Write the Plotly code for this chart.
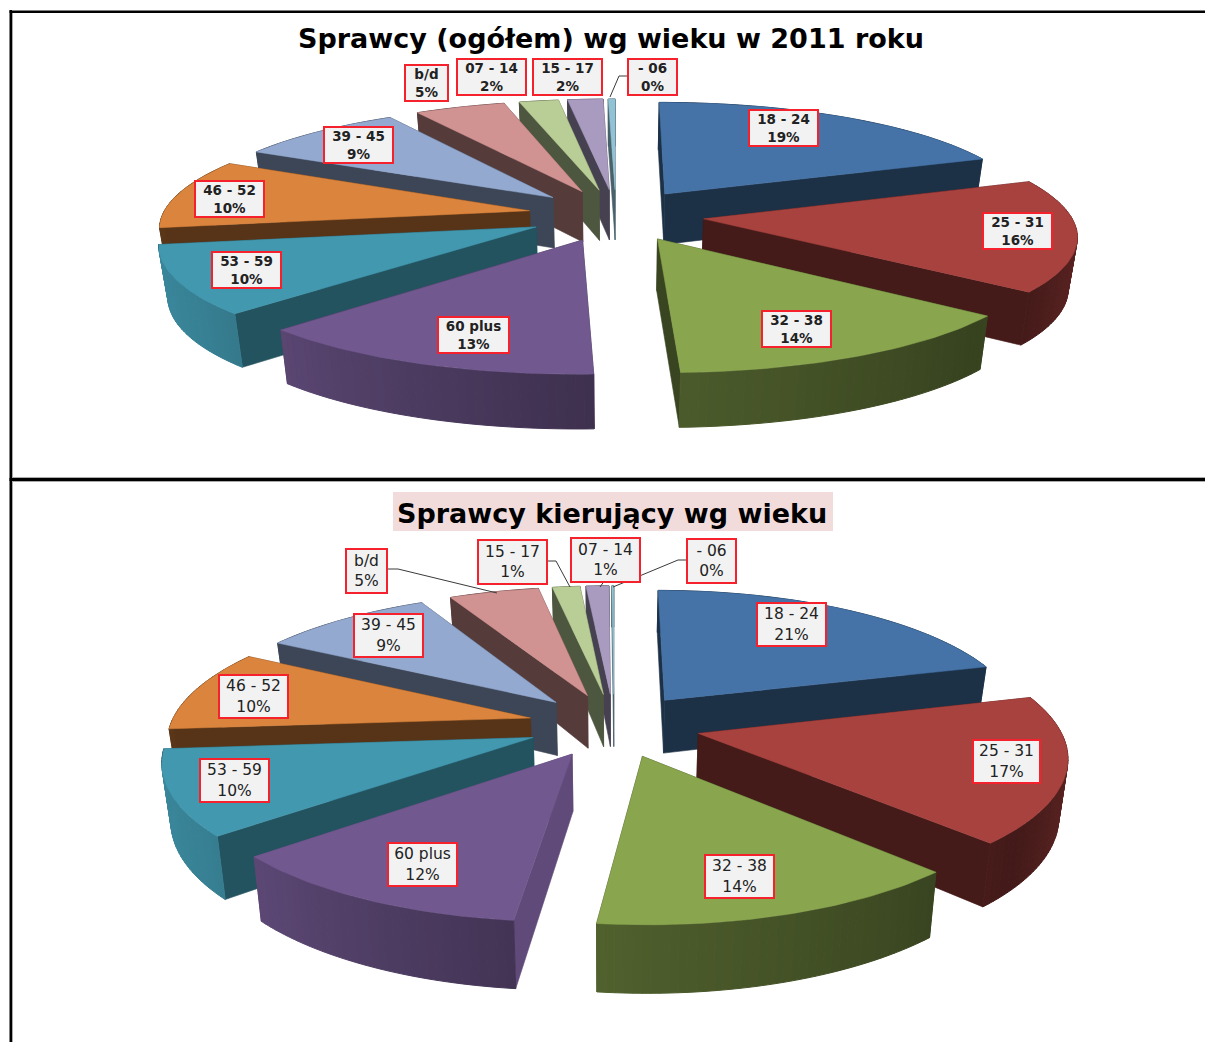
import math
import plotly.graph_objects as go

# Age groups and their shares, listed clockwise from twelve o'clock
groups_all = ["18 - 24", "25 - 31", "32 - 38", "60 plus", "53 - 59", "46 - 52",
              "39 - 45", "b/d", "07 - 14", "15 - 17", "- 06"]
shares_all = [19.2, 16.2, 13.9, 13.2, 9.9, 10.1, 8.55, 4.6, 2.0, 1.8, 0.35]

groups_drivers = ["18 - 24", "25 - 31", "32 - 38", "60 plus", "53 - 59", "46 - 52",
                  "39 - 45", "b/d", "15 - 17", "07 - 14", "- 06"]
shares_drivers = [20.55, 17.3, 14.0, 11.85, 10.0, 9.7, 9.1, 4.75, 1.45, 1.2, 0.1]

title_all = "Sprawcy (ogółem) wg wieku w 2011 roku"
title_drivers = "Sprawcy kierujący wg wieku"

slice_colors = ["#4573a7", "#a8423f", "#89a54e", "#71588f", "#4298af", "#db843d",
                "#93a9cf", "#d19392", "#b9cd96", "#a99bc0", "#92c3d4"]
wall_shade_all = [.42, .41, .42, .6, .55, .40, .42, .41, .42, .42, .5]
wall_shade_drivers = [.42, .41, .42, .85, .55, .40, .42, .41, .42, .42, .5]

# Brightness of the outer rim against the direction it faces (degrees clockwise from the back)
rim_light = [(0, .5), (90, .62), (130, .40), (180, .56), (235, .85), (258, .9), (260, .42), (360, .42)]

label_boxes_all = [(783, 128, 70, 37), (1017, 231, 70, 37), (796, 329, 70, 37), (473, 335, 72, 37),
                   (246, 270, 70, 37), (229, 199, 70, 37), (358, 145, 70, 37), (426, 83, 44, 37),
                   (491, 77, 70, 37), (567, 77, 70, 37), (652, 77, 50, 37)]
label_boxes_drivers = [(791, 624, 70, 44), (1006, 761, 68, 44), (739, 876, 70, 44), (422, 864, 70, 44),
                       (234, 780, 70, 44), (253, 696, 70, 44), (388, 635, 70, 44), (366, 571, 42, 45),
                       (512, 562, 70, 45), (605, 560, 70, 45), (711, 561, 50, 45)]

leaders = [
    ([628, 619, 610], [76, 76, 97]),
    ([388, 398, 497], [569, 569, 593]),
    ([547, 556, 570], [561, 561, 587]),
    ([605, 600], [580, 587]),
    ([686, 678, 613], [560, 560, 587]),
]


def mix(hex_color, factor):
    r, g, b = (int(hex_color[i:i + 2], 16) for i in (1, 3, 5))
    return f"rgb({int(r * factor)},{int(g * factor)},{int(b * factor)})"


def rim_factor(angle):
    angle %= 360
    for (a0, f0), (a1, f1) in zip(rim_light, rim_light[1:]):
        if a0 <= angle <= a1:
            return f0 + (f1 - f0) * (angle - a0) / (a1 - a0)
    return rim_light[-1][1]


def pie_traces(shares, wall_shades, view):
    """Extruded exploded pie, painted as polygons from the farthest face to the nearest."""
    cx, cy, a, b, k, depth, m, explode = view
    total = sum(shares)

    def project(X, Y, z=0.0):
        s = 1 / (1 + k * Y)
        x = cx + a * X * s
        y = cy - b * Y * s
        if z:
            y += depth * (1 - m * Y) * z
            x -= (x - cx) * .02 * z
        return x, y

    def quad(p, q):
        pts = [project(*p), project(*q), project(*q, 1), project(*p, 1), project(*p)]
        return [c[0] for c in pts], [c[1] for c in pts]

    walls, tops = [], []
    start = 0.0
    for share, color, shade in zip(shares, slice_colors, wall_shades):
        a0 = start / total * 360
        a1 = (start + share) / total * 360
        start += share
        mid = math.radians((a0 + a1) / 2)
        ox, oy = explode * math.sin(mid), explode * math.cos(mid)
        steps = max(2, int((a1 - a0) / 1.2))
        rim = []
        for i in range(steps + 1):
            t = math.radians(a0 + (a1 - a0) * i / steps)
            rim.append((ox + math.sin(t), oy + math.cos(t)))
        apex = (ox, oy)
        for p, q, c in ((apex, rim[0], mix(color, shade)), (apex, rim[-1], mix(color, shade))):
            xs, ys = quad(p, q)
            walls.append(((p[1] + q[1]) / 2, xs, ys, c, .6))
        for i in range(steps):
            p, q = rim[i], rim[i + 1]
            angle = a0 + (a1 - a0) * (i + .5) / steps
            xs, ys = quad(p, q)
            walls.append(((p[1] + q[1]) / 2 - .02, xs, ys, mix(color, rim_factor(angle)), 1))
        outline = [project(*pt) for pt in [apex] + rim + [apex]]
        tops.append(([c[0] for c in outline], [c[1] for c in outline], color))

    traces = []
    for _, xs, ys, c, width in sorted(walls, key=lambda w: -w[0]):
        traces.append(go.Scatter(x=xs, y=ys, mode="lines", fill="toself", fillcolor=c,
                                 line=dict(color=c, width=width), hoverinfo="skip", showlegend=False))
    for xs, ys, c in tops:
        traces.append(go.Scatter(x=xs, y=ys, mode="lines", fill="toself", fillcolor=c,
                                 line=dict(color=c, width=.5), hoverinfo="skip", showlegend=False))
    return traces


def label_annotations(groups, shares, boxes, font):
    notes = []
    for group, share, (x, y, w, h) in zip(groups, shares, boxes):
        notes.append(dict(x=x, y=y, xref="x", yref="y", text=f"{group}<br>{round(share)}%",
                          showarrow=False, xanchor="center", yanchor="middle", align="center",
                          width=w - 3, height=h - 3, borderpad=0, bgcolor="#f2f2f2",
                          bordercolor="#f5222d", borderwidth=2, font=font))
    return notes


fig = go.Figure()
fig.add_traces(pie_traces(shares_all, wall_shade_all, (616, 215, 367, 109, .133, 51, .06, .24)))
fig.add_traces(pie_traces(shares_drivers, wall_shade_drivers, (614, 725, 360, 133, .149, 55, .2, .24)))

for xs, ys in leaders:
    fig.add_trace(go.Scatter(x=xs, y=ys, mode="lines", line=dict(color="#3a3a3a", width=1),
                             hoverinfo="skip", showlegend=False))

annotations = (
    label_annotations(groups_all, shares_all, label_boxes_all,
                      dict(family="DejaVu Sans", size=13.5, color="#222222", weight="bold"))
    + label_annotations(groups_drivers, shares_drivers, label_boxes_drivers,
                        dict(family="DejaVu Sans", size=15.5, color="#222222"))
)
annotations.append(dict(x=611, y=38, xref="x", yref="y", text=f"<b>{title_all}</b>", showarrow=False,
                        font=dict(family="DejaVu Sans", size=27, color="#000000")))
annotations.append(dict(x=612, y=513, xref="x", yref="y", text=f"<b>{title_drivers}</b>", showarrow=False,
                        font=dict(family="DejaVu Sans", size=27, color="#000000")))

frame = [
    dict(type="rect", x0=393, x1=833, y0=492, y1=531, fillcolor="#f2dcdb", line_width=0, layer="below"),
    dict(type="rect", x0=12, x1=13, y0=12, y1=1042, fillcolor="#aaaaaa", line_width=0),
    dict(type="rect", x0=9.5, x1=12, y0=10, y1=1042, fillcolor="#000000", line_width=0),
    dict(type="rect", x0=9.5, x1=1205, y0=10.5, y1=13, fillcolor="#000000", line_width=0),
    dict(type="rect", x0=12, x1=1205, y0=477, y1=482, fillcolor="#aaaaaa", line_width=0),
    dict(type="rect", x0=9.5, x1=1205, y0=478, y1=481, fillcolor="#000000", line_width=0),
]

fig.update_layout(
    width=1205, height=1042, margin=dict(l=0, r=0, t=0, b=0),
    paper_bgcolor="#ffffff", plot_bgcolor="#ffffff", showlegend=False,
    xaxis=dict(range=[0, 1205], visible=False, fixedrange=True),
    yaxis=dict(range=[1042, 0], visible=False, fixedrange=True),
    annotations=annotations, shapes=frame,
)
fig.write_html("out.html", config=dict(displayModeBar=False))
